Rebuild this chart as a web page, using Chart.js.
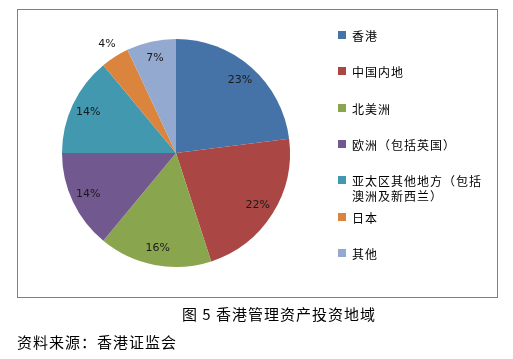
<!DOCTYPE html>
<html>
<head>
<meta charset="utf-8">
<script src="https://cdn.jsdelivr.net/npm/chart.js@4"></script>
<style>
  body { margin: 0; background: #fff; }
  #wrap { position: relative; width: 513px; height: 359px; font-family: "Noto Sans CJK SC", sans-serif; overflow: hidden; }
  #frame { position: absolute; left: 17px; top: 9px; width: 479px; height: 287px; border: 1px solid #808080; }
  #myChart { position: absolute; left: 0; top: 0; }
  .leg { position: absolute; left: 338px; font-size: 12px; letter-spacing: 1px; line-height: 15px; color: #000; }
  .leg i { position: absolute; left: 0; top: 3px; width: 8px; height: 8px; }
  .leg span { display: block; margin-left: 14px; width: 136px; word-break: break-all; }
  #caption { position: absolute; left: 182px; top: 304px; white-space: nowrap; font-size: 15px; letter-spacing: 1px; line-height: 20px; }
  #source { position: absolute; left: 17px; top: 332px; font-size: 15px; letter-spacing: 1px; line-height: 20px; }
</style>
</head>
<body>
<div id="wrap">
  <div id="frame"></div>
  <canvas id="myChart" width="513" height="359"></canvas>
  <div id="legend"></div>
  <div id="caption">图 5 香港管理资产投资地域</div>
  <div id="source">资料来源：香港证监会</div>
</div>
<script>
const labels = ['香港', '中国内地', '北美洲', '欧洲（包括英国）', '亚太区其他地方（包括澳洲及新西兰）', '日本', '其他'];
const shares = [23, 22, 16, 14, 14, 4, 7];
const colors = ['#4572A7', '#AA4643', '#89A54E', '#71588F', '#4198AF', '#DB843D', '#93A9CF'];

// legend as html, one slot every ~36px
let legend = document.getElementById('legend');
labels.forEach((name, i) => {
  let d = document.createElement('div');
  d.className = 'leg';
  d.style.top = (28 + i * 36.3) + 'px';
  d.innerHTML = '<i style="background:' + colors[i] + '"></i><span>' + name + '</span>';
  legend.appendChild(d);
});

// percent labels on the slices
const pctLabels = {
  id: 'pctLabels',
  afterDatasetsDraw(chart) {
    const ctx = chart.ctx;
    const meta = chart.getDatasetMeta(0);
    const total = shares.reduce((a, b) => a + b, 0);
    ctx.save();
    ctx.font = '11px "DejaVu Sans", sans-serif';
    ctx.fillStyle = '#1a1a1a';
    ctx.textAlign = 'center';
    ctx.textBaseline = 'middle';
    meta.data.forEach((arc, i) => {
      const p = arc.getProps(['x', 'y', 'startAngle', 'endAngle', 'outerRadius'], true);
      const mid = (p.startAngle + p.endAngle) / 2;
      const k = shares[i] / total < 0.05 ? 1.13 : 0.85;
      const x = p.x + Math.cos(mid) * p.outerRadius * k;
      const y = p.y + Math.sin(mid) * p.outerRadius * k;
      ctx.fillText(Math.round(shares[i] / total * 100) + '%', x, y);
    });
    ctx.restore();
  }
};

const ctx = document.getElementById('myChart').getContext('2d');
const myChart = new Chart(ctx, {
  type: 'pie',
  data: {
    labels: labels,
    datasets: [{
      data: shares,
      backgroundColor: colors,
      borderWidth: 0
    }]
  },
  options: {
    responsive: false,
    animation: false,
    layout: { padding: { left: 62, right: 223, top: 39, bottom: 92 } },
    plugins: {
      legend: { display: false },
      tooltip: { enabled: false }
    }
  },
  plugins: [pctLabels]
});
</script>
</body>
</html>
